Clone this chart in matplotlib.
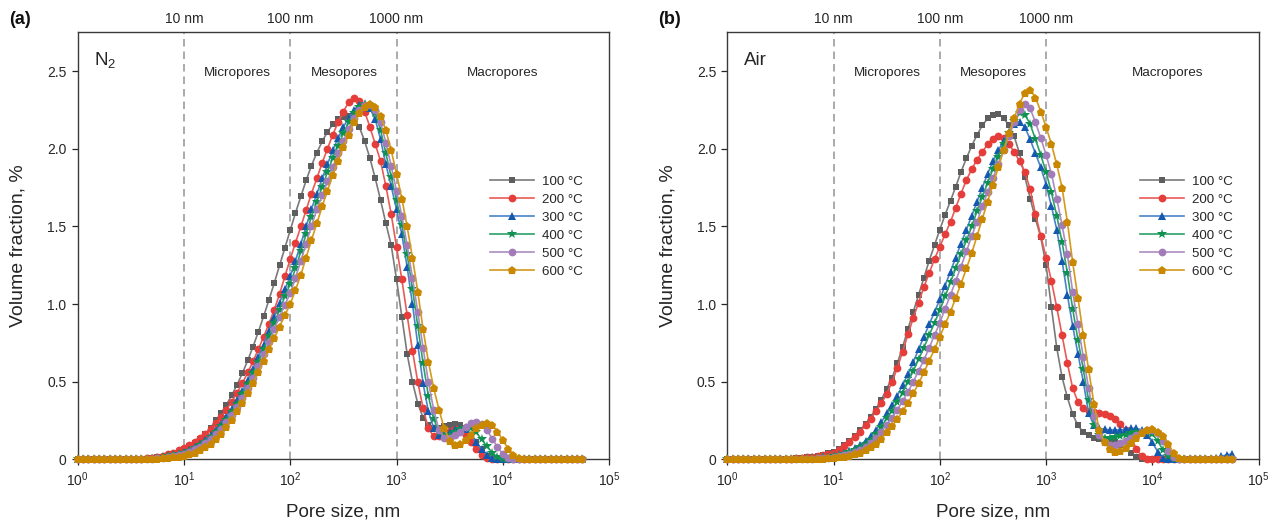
import numpy as np
import matplotlib
matplotlib.use("Agg")
import matplotlib.pyplot as plt
from matplotlib.ticker import FixedLocator, FuncFormatter, NullLocator
from matplotlib.transforms import blended_transform_factory

# ---------------- data ----------------
pore_size_nm = [
    1.0, 1.12, 1.26, 1.41, 1.58, 1.78, 2.0, 2.24, 2.51, 2.82,
    3.16, 3.55, 3.98, 4.47, 5.01, 5.62, 6.31, 7.08, 7.94, 8.91,
    10.0, 11.2, 12.6, 14.1, 15.8, 17.8, 20.0, 22.4, 25.1, 28.2,
    31.6, 35.5, 39.8, 44.7, 50.1, 56.2, 63.1, 70.8, 79.4, 89.1,
    100, 112, 126, 141, 158, 178, 200, 224, 251, 282,
    316, 355, 398, 447, 501, 562, 631, 708, 794, 891,
    1000, 1122, 1259, 1413, 1585, 1778, 1995, 2239, 2512, 2818,
    3162, 3548, 3981, 4467, 5012, 5623, 6310, 7079, 7943, 8913,
    10000, 11220, 12589, 14125, 15849, 17783, 19953, 22387, 25119, 28184,
    31623, 35481, 39811, 44668, 50119, 56234]

temperatures = ["100 °C", "200 °C", "300 °C", "400 °C", "500 °C", "600 °C"]

# Panel (a): N2
n2_100 = [0]*10 + [
    0.001, 0.002, 0.004, 0.006, 0.009, 0.013, 0.018, 0.025, 0.035, 0.048,
    0.065, 0.085, 0.108, 0.135, 0.166, 0.205, 0.252, 0.299, 0.353, 0.414,
    0.482, 0.556, 0.638, 0.727, 0.822, 0.922, 1.028, 1.137, 1.250, 1.363,
    1.476, 1.587, 1.694, 1.796, 1.890, 1.975, 2.048, 2.109, 2.157, 2.190,
    2.207, 2.21, 2.19, 2.14, 2.05, 1.94, 1.81, 1.67, 1.52, 1.38,
    1.16, 0.92, 0.68, 0.50, 0.36, 0.27, 0.22, 0.205, 0.205, 0.215,
    0.225, 0.23, 0.225, 0.20, 0.16, 0.11, 0.065, 0.025, 0.005, 0,
    0, 0, 0, 0, 0, 0, 0, 0, 0, 0,
    0, 0, 0, 0, 0, 0]
n2_200 = [0]*10 + [
    0.001, 0.003, 0.005, 0.008, 0.012, 0.018, 0.025, 0.034, 0.045, 0.059,
    0.076, 0.094, 0.115, 0.138, 0.165, 0.196, 0.232, 0.273, 0.32, 0.372,
    0.43, 0.492, 0.56, 0.632, 0.71, 0.79, 0.875, 0.965, 1.065, 1.18,
    1.29, 1.395, 1.5, 1.605, 1.71, 1.81, 1.91, 2.0, 2.09, 2.17,
    2.24, 2.3, 2.33, 2.31, 2.24, 2.14, 2.03, 1.92, 1.76, 1.58,
    1.37, 1.16, 0.93, 0.70, 0.50, 0.33, 0.20, 0.15, 0.15, 0.165,
    0.185, 0.195, 0.185, 0.155, 0.11, 0.065, 0.03, 0.01, 0, 0,
    0, 0, 0, 0, 0, 0, 0, 0, 0, 0,
    0, 0, 0, 0, 0, 0]
n2_300 = [0]*10 + [
    0, 0.001, 0.002, 0.004, 0.007, 0.011, 0.016, 0.022, 0.03, 0.038,
    0.048, 0.062, 0.08, 0.10, 0.125, 0.155, 0.19, 0.23, 0.275, 0.325,
    0.38, 0.44, 0.51, 0.58, 0.66, 0.74, 0.83, 0.92, 1.01, 1.095,
    1.18, 1.28, 1.39, 1.5, 1.61, 1.71, 1.81, 1.9, 1.99, 2.07,
    2.14, 2.2, 2.25, 2.28, 2.29, 2.26, 2.19, 2.06, 1.9, 1.76,
    1.61, 1.45, 1.24, 1.0, 0.74, 0.49, 0.31, 0.20, 0.16, 0.16,
    0.175, 0.195, 0.205, 0.195, 0.16, 0.11, 0.065, 0.03, 0.01, 0,
    0, 0, 0, 0, 0, 0, 0, 0, 0, 0,
    0, 0, 0, 0, 0, 0]
n2_400 = [0]*10 + [
    0, 0.001, 0.002, 0.003, 0.006, 0.01, 0.014, 0.02, 0.027, 0.035,
    0.044, 0.057, 0.073, 0.092, 0.115, 0.143, 0.176, 0.214, 0.257, 0.305,
    0.36, 0.42, 0.485, 0.555, 0.63, 0.71, 0.795, 0.88, 0.965, 1.05,
    1.13, 1.23, 1.34, 1.45, 1.56, 1.66, 1.755, 1.85, 1.94, 2.02,
    2.1, 2.17, 2.23, 2.27, 2.29, 2.28, 2.23, 2.12, 1.97, 1.82,
    1.67, 1.51, 1.32, 1.1, 0.86, 0.62, 0.41, 0.26, 0.18, 0.155,
    0.16, 0.175, 0.195, 0.205, 0.20, 0.175, 0.13, 0.085, 0.045, 0.015,
    0, 0, 0, 0, 0, 0, 0, 0, 0, 0,
    0, 0, 0, 0, 0, 0]
n2_500 = [0]*10 + [
    0, 0.001, 0.002, 0.003, 0.005, 0.008, 0.012, 0.017, 0.023, 0.03,
    0.038, 0.05, 0.065, 0.083, 0.105, 0.131, 0.162, 0.198, 0.24, 0.287,
    0.34, 0.398, 0.46, 0.527, 0.6, 0.677, 0.758, 0.84, 0.92, 0.995,
    1.07, 1.17, 1.28, 1.39, 1.5, 1.61, 1.7, 1.79, 1.88, 1.97,
    2.05, 2.13, 2.2, 2.25, 2.28, 2.28, 2.25, 2.17, 2.04, 1.89,
    1.73, 1.57, 1.38, 1.17, 0.95, 0.72, 0.50, 0.32, 0.19, 0.14,
    0.14, 0.155, 0.18, 0.21, 0.235, 0.243, 0.23, 0.19, 0.135, 0.08,
    0.035, 0.01, 0, 0, 0, 0, 0, 0, 0, 0,
    0, 0, 0, 0, 0, 0]
n2_600 = [0]*10 + [
    0, 0, 0.001, 0.002, 0.003, 0.005, 0.007, 0.01, 0.014, 0.018,
    0.024, 0.033, 0.045, 0.06, 0.079, 0.102, 0.13, 0.165, 0.207, 0.256,
    0.31, 0.365, 0.425, 0.49, 0.56, 0.635, 0.71, 0.78, 0.855, 0.93,
    1.0, 1.09, 1.19, 1.3, 1.41, 1.52, 1.63, 1.73, 1.83, 1.92,
    2.01, 2.09, 2.17, 2.23, 2.27, 2.29, 2.27, 2.21, 2.12, 1.99,
    1.84, 1.68, 1.5, 1.3, 1.08, 0.84, 0.63, 0.46, 0.32, 0.20,
    0.12, 0.093, 0.10, 0.125, 0.16, 0.20, 0.225, 0.233, 0.22, 0.18,
    0.125, 0.07, 0.03, 0.008, 0, 0, 0, 0, 0, 0,
    0, 0, 0, 0, 0, 0]

# Panel (b): Air
air_100 = [0]*10 + [
    0.001, 0.002, 0.004, 0.007, 0.01, 0.014, 0.019, 0.025, 0.031, 0.039,
    0.048, 0.066, 0.092, 0.12, 0.152, 0.188, 0.23, 0.276, 0.327, 0.385,
    0.455, 0.525, 0.62, 0.725, 0.84, 0.95, 1.06, 1.17, 1.28, 1.38,
    1.48, 1.575, 1.665, 1.755, 1.85, 1.94, 2.02, 2.09, 2.15, 2.195,
    2.22, 2.225, 2.2, 2.15, 2.08, 1.97, 1.82, 1.68, 1.55, 1.43,
    1.25, 0.98, 0.72, 0.53, 0.40, 0.29, 0.22, 0.175, 0.155, 0.14,
    0.135, 0.13, 0.125, 0.115, 0.095, 0.07, 0.04, 0.015, 0, 0,
    0, 0, 0, 0, 0, 0, 0, 0, 0, 0,
    0, 0, 0, 0, 0, 0]
air_200 = [0]*10 + [
    0.001, 0.002, 0.004, 0.007, 0.01, 0.014, 0.019, 0.025, 0.031, 0.038,
    0.045, 0.063, 0.089, 0.115, 0.146, 0.18, 0.22, 0.263, 0.31, 0.363,
    0.42, 0.50, 0.59, 0.695, 0.805, 0.91, 1.01, 1.11, 1.2, 1.29,
    1.37, 1.45, 1.53, 1.62, 1.71, 1.8, 1.87, 1.93, 1.98, 2.03,
    2.065, 2.08, 2.07, 2.03, 1.98, 1.92, 1.85, 1.74, 1.58, 1.44,
    1.30, 1.15, 0.98, 0.80, 0.62, 0.46, 0.37, 0.33, 0.315, 0.305,
    0.30, 0.29, 0.28, 0.26, 0.23, 0.19, 0.135, 0.07, 0.02, 0,
    0, 0, 0, 0, 0, 0, 0, 0, 0, 0,
    0, 0, 0, 0, 0, 0]
air_300 = [0]*10 + [
    0, 0.001, 0.002, 0.003, 0.005, 0.007, 0.009, 0.012, 0.015, 0.019,
    0.024, 0.032, 0.043, 0.056, 0.073, 0.094, 0.12, 0.152, 0.19, 0.24,
    0.297, 0.35, 0.41, 0.48, 0.55, 0.625, 0.71, 0.79, 0.87, 0.95,
    1.03, 1.12, 1.21, 1.3, 1.39, 1.48, 1.57, 1.66, 1.75, 1.84,
    1.92, 1.99, 2.05, 2.11, 2.16, 2.17, 2.14, 2.06, 1.97, 1.88,
    1.77, 1.63, 1.48, 1.28, 1.06, 0.86, 0.68, 0.50, 0.30, 0.22,
    0.20, 0.195, 0.19, 0.19, 0.19, 0.195, 0.20, 0.20, 0.19, 0.16,
    0.11, 0.05, 0.01, 0, 0, 0, 0, 0, 0, 0,
    0, 0.005, 0.01, 0.02, 0.03, 0.035]
air_400 = [0]*10 + [
    0, 0.001, 0.001, 0.002, 0.004, 0.006, 0.008, 0.01, 0.013, 0.016,
    0.02, 0.027, 0.036, 0.047, 0.061, 0.078, 0.099, 0.128, 0.165, 0.21,
    0.265, 0.315, 0.37, 0.43, 0.50, 0.57, 0.645, 0.72, 0.80, 0.88,
    0.96, 1.05, 1.14, 1.23, 1.32, 1.41, 1.50, 1.60, 1.69, 1.78,
    1.87, 1.95, 2.03, 2.10, 2.18, 2.23, 2.22, 2.16, 2.06, 1.96,
    1.85, 1.72, 1.57, 1.40, 1.20, 0.97, 0.77, 0.58, 0.38, 0.22,
    0.155, 0.14, 0.14, 0.145, 0.15, 0.16, 0.17, 0.178, 0.18, 0.18,
    0.165, 0.12, 0.06, 0.02, 0, 0, 0, 0, 0, 0,
    0, 0, 0, 0, 0, 0]
air_500 = [0]*10 + [
    0, 0, 0.001, 0.002, 0.003, 0.004, 0.006, 0.008, 0.01, 0.012,
    0.015, 0.021, 0.028, 0.037, 0.049, 0.064, 0.083, 0.106, 0.14, 0.18,
    0.225, 0.27, 0.32, 0.375, 0.435, 0.50, 0.57, 0.64, 0.72, 0.80,
    0.88, 0.97, 1.06, 1.15, 1.24, 1.34, 1.44, 1.53, 1.63, 1.72,
    1.81, 1.90, 1.99, 2.08, 2.17, 2.25, 2.29, 2.26, 2.17, 2.07,
    1.96, 1.84, 1.68, 1.51, 1.32, 1.08, 0.87, 0.66, 0.46, 0.28,
    0.16, 0.11, 0.095, 0.095, 0.105, 0.12, 0.14, 0.16, 0.178, 0.188,
    0.19, 0.17, 0.12, 0.055, 0.015, 0, 0, 0, 0, 0,
    0, 0, 0, 0, 0, 0]
air_600 = [0]*10 + [
    0, 0, 0, 0.001, 0.001, 0.002, 0.003, 0.004, 0.005, 0.007,
    0.009, 0.013, 0.018, 0.025, 0.034, 0.045, 0.06, 0.078, 0.10, 0.135,
    0.175, 0.215, 0.26, 0.31, 0.365, 0.425, 0.49, 0.56, 0.635, 0.71,
    0.79, 0.87, 0.95, 1.04, 1.13, 1.23, 1.33, 1.44, 1.55, 1.66,
    1.77, 1.88, 1.99, 2.10, 2.20, 2.29, 2.36, 2.38, 2.33, 2.24,
    2.14, 2.03, 1.90, 1.75, 1.53, 1.27, 1.04, 0.80, 0.58, 0.36,
    0.19, 0.11, 0.07, 0.05, 0.055, 0.075, 0.105, 0.14, 0.17, 0.19,
    0.194, 0.18, 0.15, 0.10, 0.04, 0.008, 0, 0, 0, 0,
    0, 0, 0, 0, 0, 0]

boundaries_nm = [10, 100, 1000]
boundary_labels = ["10 nm", "100 nm", "1000 nm"]
region_names = ["Micropores", "Mesopores", "Macropores"]
region_x_a = [32, 320, 10000]
region_x_b = [32, 316, 13800]
yticks = [0, 0.5, 1.0, 1.5, 2.0, 2.5]
xticks = [1, 10, 100, 1000, 10000, 100000]

# ---------------- style ----------------
plt.rcParams['font.family'] = ['Liberation Sans', 'DejaVu Sans']
plt.rcParams['mathtext.fontset'] = 'custom'
plt.rcParams['mathtext.rm'] = 'Liberation Sans'
plt.rcParams['mathtext.it'] = 'Liberation Sans:italic'
plt.rcParams['mathtext.bf'] = 'Liberation Sans:bold'

marker_colors = ['#5e5e5e', '#e53e3a', '#1558b0', '#0f9152', '#a27cb8', '#c98800']
line_colors = ['#7a7a7a', '#ea5a55', '#4a82c8', '#2aa066', '#ad8cc2', '#d39a1c']
markers = ['s', 'o', '^', '*', 'o', 'p']
msizes = [5.0, 5.6, 6.0, 7.8, 5.6, 6.4]
text_color = '#262626'

fig = plt.figure(figsize=(12.68, 5.24), dpi=100)
ax_a = fig.add_axes([0.0613, 0.1231, 0.4190, 0.8153])
ax_b = fig.add_axes([0.5736, 0.1231, 0.4190, 0.8153])


def yfmt(v, pos):
    return "0" if v == 0 else f"{v:.1f}"


def draw(ax, series, gas_text, panel_text, region_x):
    for lab, y, mc, lc, m, ms in zip(temperatures, series, marker_colors,
                                     line_colors, markers, msizes):
        ax.plot(pore_size_nm, y, color=lc, lw=1.2, marker=m, ms=ms,
                mfc=mc, mec=mc, mew=0, clip_on=False, label=lab, zorder=3)
    ax.set_xscale('log')
    ax.set_xlim(1, 1e5)
    ax.set_ylim(0, 2.75)
    ax.xaxis.set_major_locator(FixedLocator(xticks))
    ax.xaxis.set_minor_locator(NullLocator())
    ax.yaxis.set_major_locator(FixedLocator(yticks))
    ax.yaxis.set_major_formatter(FuncFormatter(yfmt))
    ax.tick_params(direction='out', length=4, width=0.9, labelsize=10,
                   colors=text_color, top=False, right=False, pad=4)
    for s in ax.spines.values():
        s.set_color('#3a3a3a')
        s.set_linewidth(1.0)
    trans = blended_transform_factory(ax.transData, ax.transAxes)
    for b, bl in zip(boundaries_nm, boundary_labels):
        ax.axvline(b, color='#9c9c9c', lw=1.2, ls=(0, (4.5, 3.0)), zorder=1)
        ax.text(b, 1.032, bl, transform=trans, ha='center', va='center',
                fontsize=10, color=text_color)
    for rx, rn in zip(region_x, region_names):
        ax.text(rx, 0.905, rn, transform=trans, ha='center', va='center',
                fontsize=9.7, color=text_color)
    ax.text(0.031, 0.935, gas_text, transform=ax.transAxes, ha='left',
            va='center', fontsize=13.5, color=text_color)
    ax.text(-0.109, 1.029, panel_text, transform=ax.transAxes, ha='center',
            va='center', fontsize=13, fontweight='bold', color='#111111')
    ax.text(0.5, -0.123, "Pore size, nm", transform=ax.transAxes,
            ha='center', va='center', fontsize=13.5, color=text_color)
    ax.text(-0.112, 0.5, "Volume fraction, %", transform=ax.transAxes,
            ha='center', va='center', rotation=90, fontsize=14,
            color=text_color)
    leg = ax.legend(loc='center left', bbox_to_anchor=(0.776, 0.545),
                    frameon=False, fontsize=9.6, handlelength=3.3,
                    handletextpad=0.6, labelspacing=0.43, borderpad=0,
                    borderaxespad=0, numpoints=1)
    for t in leg.get_texts():
        t.set_color(text_color)


draw(ax_a, [n2_100, n2_200, n2_300, n2_400, n2_500, n2_600],
     r"$\mathregular{N_2}$", "(a)", region_x_a)
draw(ax_b, [air_100, air_200, air_300, air_400, air_500, air_600],
     "Air", "(b)", region_x_b)

fig.savefig("out.png", dpi=100)
